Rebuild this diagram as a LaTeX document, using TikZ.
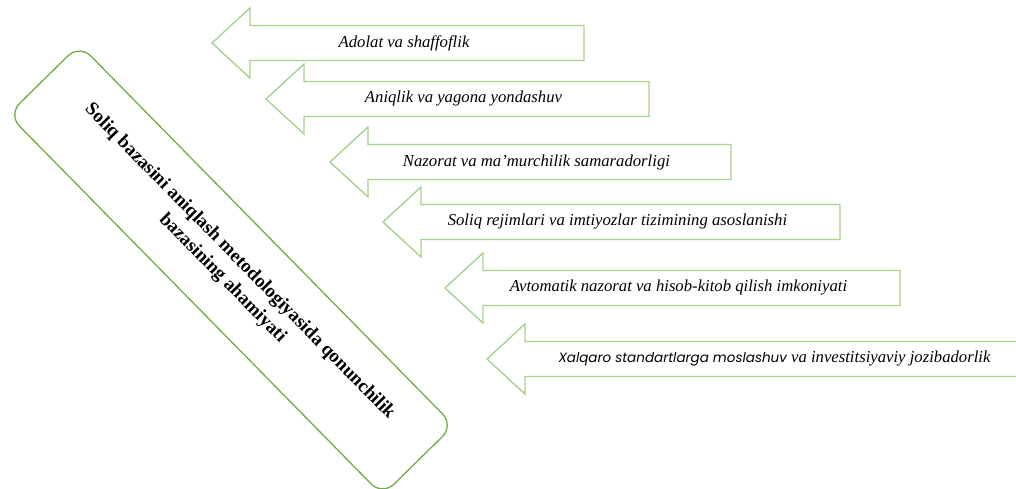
\documentclass[tikz,border=0pt]{standalone}
\usepackage{fontspec}
\setmainfont{Liberation Serif}[ItalicFont={Liberation Serif Italic},BoldFont={Liberation Serif Bold}]
\newfontfamily\xalqfont{Poppins}
\usetikzlibrary{calc}
\definecolor{arrowgreen}{HTML}{A9D18E}
\definecolor{boxgreen}{HTML}{70AD47}
\newcommand{\xalqtext}[1]{{\xalqfont\itshape\fontsize{13.5}{20}\selectfont #1}}

\begin{document}
\begin{tikzpicture}[x=1pt,y=-1pt,
  blockarrow/.style={draw=arrowgreen,line width=1.4pt,line join=miter},
  arrowtext/.style={font=\fontsize{16.7}{20}\selectfont\itshape},
  mainbox/.style={draw=boxgreen,line width=1.3pt,rounded corners=16pt,minimum width=534pt,minimum height=100pt,rotate=-45.5,align=center,font=\fontsize{19}{24}\selectfont\bfseries}]
\useasboundingbox (0,0) rectangle (1016,489);
\node[mainbox] (base) at (231,270) {Soliq bazasini aniqlash metodologiyasida qonunchilik\\bazasining ahamiyati};
\foreach \n/\tx/\ty/\rx/\txt in {1/212/43/584/Adolat va shaffoflik,
  2/266/99/649/Aniqlik va yagona yondashuv,
  3/330/162/731/Nazorat va ma’murchilik samaradorligi,
  4/383/222/840/Soliq rejimlari va imtiyozlar tizimining asoslanishi,
  5/445/288/900/Avtomatik nazorat va hisob-kitob qilish imkoniyati,
  6/487/359/1050/\xalqtext{Xalqaro standartlarga moslashuv} va investitsiyaviy jozibadorlik}{
  \coordinate (tip\n) at (\tx,\ty);
  \draw[blockarrow] (tip\n) -- ++(38,-35) -- ++(0,17.5) -- (\rx,\ty-17.5) -- (\rx,\ty+17.5) -- ($(tip\n)+(38,17.5)$) -- ++(0,17.5) -- cycle;
  \node[arrowtext] (arr\n) at ($(tip\n)!.5!(\rx,\ty)+(6,0)$) {\txt};
}
\end{tikzpicture}
\end{document}
